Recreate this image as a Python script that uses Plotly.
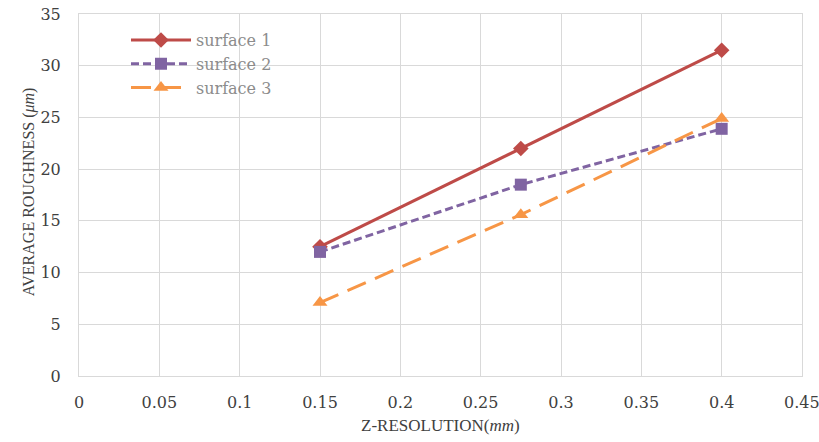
import plotly.graph_objects as go

x_vals = [0.15, 0.275, 0.4]
surface1 = [12.5, 22.0, 31.5]
surface2 = [12.0, 18.5, 23.9]
surface3 = [7.1, 15.6, 24.9]
names = ["surface 1", "surface 2", "surface 3"]
x_ticks = [0, 0.05, 0.1, 0.15, 0.2, 0.25, 0.3, 0.35, 0.4, 0.45]
x_tick_text = ["0", "0.05", "0.1", "0.15", "0.2", "0.25", "0.3", "0.35", "0.4", "0.45"]
y_ticks = [0, 5, 10, 15, 20, 25, 30, 35]
x_title = "Z-RESOLUTION(<i>mm</i>)"
y_title = "AVERAGE ROUGHNESS (<i>μm</i>)"

serif = "Liberation Serif, DejaVu Serif, serif"
wide_serif = "DejaVu Serif, serif"

fig = go.Figure()
fig.add_trace(go.Scatter(
    x=x_vals, y=surface1, name=names[0], mode="lines+markers",
    line=dict(color="#BE4B48", width=3),
    marker=dict(symbol="diamond", size=12, color="#BE4B48"),
))
fig.add_trace(go.Scatter(
    x=x_vals, y=surface2, name=names[1], mode="lines+markers",
    line=dict(color="#8064A2", width=3, dash="8px,4px"),
    marker=dict(symbol="square", size=12, color="#8064A2"),
))
fig.add_trace(go.Scatter(
    x=x_vals, y=surface3, name=names[2], mode="lines+markers",
    line=dict(color="#F79646", width=3, dash="20px,10px"),
    marker=dict(symbol="triangle-up", size=13, color="#F79646"),
))

# last x tick label, which overflows the page edge
fig.add_annotation(
    x=x_ticks[-1], xref="x", y=0, yref="paper", yanchor="middle", yshift=-26,
    text=x_tick_text[-1], showarrow=False,
    font=dict(size=16, color="#404040", family=wide_serif),
)
# axis titles
fig.add_annotation(
    x=0.5, xref="paper", y=0, yref="paper", yanchor="middle", yshift=-49,
    text=x_title, showarrow=False,
    font=dict(size=17, color="#404040", family=serif),
)
fig.add_annotation(
    x=-0.068, xref="paper", y=0.51, yref="paper", textangle=-90,
    xanchor="center", yanchor="middle",
    text=y_title, showarrow=False,
    font=dict(size=16, color="#404040", family=serif),
)

fig.update_layout(
    width=819, height=442,
    margin=dict(l=79, r=17, t=14, b=66),
    paper_bgcolor="white", plot_bgcolor="white",
    font=dict(family=serif, size=15, color="#404040"),
    legend=dict(
        x=0.065, y=0.975, xanchor="left", yanchor="top",
        bgcolor="rgba(0,0,0,0)",
        font=dict(size=16, color="#8c8c8c", family=wide_serif),
        tracegroupgap=0, itemwidth=60,
    ),
    xaxis=dict(
        range=[0, 0.45], tickvals=x_ticks, ticktext=x_tick_text,
        showgrid=True, gridcolor="#d9d9d9", gridwidth=1,
        zeroline=False, showline=True, linecolor="#d9d9d9", mirror=True,
        tickfont=dict(size=16, color="#404040", family=wide_serif),
        ticks="", ticklen=0, ticklabelstandoff=12, automargin=False,
    ),
    yaxis=dict(
        range=[0, 35], tickvals=y_ticks,
        showgrid=True, gridcolor="#d9d9d9", gridwidth=1,
        zeroline=False, showline=True, linecolor="#d9d9d9", mirror=True,
        tickfont=dict(size=16, color="#404040", family=wide_serif),
        ticks="", ticklen=0, ticklabelstandoff=14, automargin=False,
    ),
)

fig.write_html("out.html")
